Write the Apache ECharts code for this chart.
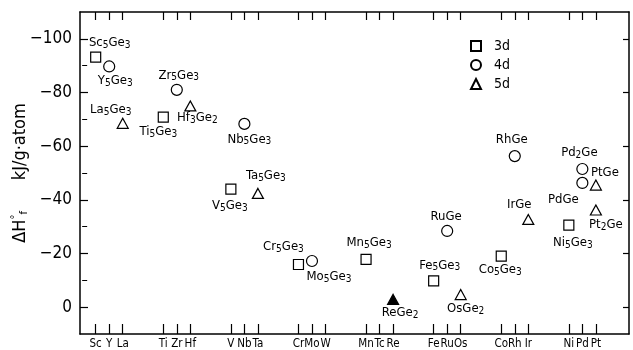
<!DOCTYPE html>
<html>
<head>
<meta charset="utf-8">
<script src="https://cdn.jsdelivr.net/npm/echarts@6/dist/echarts.min.js"></script>
<style>
html,body{margin:0;padding:0;background:#fff;}
#chart{width:633px;height:350px;}
</style>
</head>
<body>
<div id="chart"></div>
<script>
// ---- data ----
const elements = ['Sc','Y','La','Ti','Zr','Hf','V','Nb','Ta','Cr','Mo','W','Mn','Tc','Re','Fe','Ru','Os','Co','Rh','Ir','Ni','Pd','Pt'];
const elementSlots = [1,2,3,6,7,8,11,12,13,16,17,18,21,22,23,26,27,28,31,32,33,36,37,38];
const yTicks = [-100,-80,-60,-40,-20,0];
const yMinorTicks = [-90,-70,-50,-30,-10];

const compounds3d = ['Sc5Ge3','Ti5Ge3','V5Ge3','Cr5Ge3','Mn5Ge3','Fe5Ge3','Co5Ge3','Ni5Ge3'];
const metals3d    = ['Sc','Ti','V','Cr','Mn','Fe','Co','Ni'];
const dH3d        = [-93.2,-70.8,-44.0,-15.9,-17.8,-9.8,-19.0,-30.6];

const compounds4d = ['Y5Ge3','Zr5Ge3','Nb5Ge3','Mo5Ge3','RuGe','RhGe','Pd2Ge','PdGe'];
const metals4d    = ['Y','Zr','Nb','Mo','Ru','Rh','Pd','Pd'];
const dH4d        = [-89.7,-81.0,-68.3,-17.2,-28.4,-56.3,-51.5,-46.3];

const compounds5d = ['La5Ge3','Hf3Ge2','Ta5Ge3','ReGe2','OsGe2','IrGe','PtGe','Pt2Ge'];
const metals5d    = ['La','Hf','Ta','Re','Os','Ir','Pt','Pt'];
const dH5d        = [-68.5,-75.0,-42.4,-2.9,-4.7,-32.7,-45.5,-36.2];
const filled5d    = ['ReGe2'];

const seriesNames = ['3d','4d','5d'];

// ---- label placement (styling) ----
const labelOffsets = {
  'Sc5Ge3':[14,-14],'Y5Ge3':[6,15],'La5Ge3':[-12,-13],'Ti5Ge3':[-5,15],'Zr5Ge3':[2,-14],
  'Hf3Ge2':[7,12],'V5Ge3':[-1,17],'Nb5Ge3':[5,16],'Ta5Ge3':[8,-17],'Cr5Ge3':[-15,-17],
  'Mo5Ge3':[17,16],'Mn5Ge3':[3,-16],'ReGe2':[7,14],'Fe5Ge3':[6,-15],'OsGe2':[5,15],
  'RuGe':[-1,-14],'Co5Ge3':[-1,14],'IrGe':[-9,-14],'RhGe':[-3,-16],'Pd2Ge':[-3,-16],
  'PdGe':[-19,17],'PtGe':[9,-12],'Pt2Ge':[10,15],'Ni5Ge3':[4,18]
};

const FONT = "'Liberation Sans Narrow','DejaVu Sans Condensed','Liberation Sans',sans-serif";

function slotOf(m){ return elementSlots[elements.indexOf(m)]; }
function richFormula(f){
  return f.replace(/([A-Za-z]+)|(\d+)/g, (m,a,d) => a ? '{n|'+a+'}' : '{s|'+d+'}');
}
function buildData(compounds, metals, vals, filled){
  return compounds.map((c,i) => {
    const item = { name: c, value: [slotOf(metals[i]), vals[i]], label: { offset: labelOffsets[c] || [0,0] } };
    if (filled && filled.indexOf(c) >= 0) item.itemStyle = { color: '#000' };
    return item;
  });
}

const labelStyle = {
  show: true,
  position: 'inside',
  color: '#000',
  fontFamily: FONT,
  formatter: p => richFormula(p.name),
  rich: {
    n: { fontSize: 13, lineHeight: 14, verticalAlign: 'top', color: '#000', fontFamily: FONT },
    s: { fontSize: 10, lineHeight: 10, padding: [6,0,0,0], verticalAlign: 'bottom', color: '#000', fontFamily: FONT }
  }
};

const symbols = ['rect','circle','triangle'];
const symbolSizes = [10,11,[11,10]];
const datasets = [
  buildData(compounds3d, metals3d, dH3d),
  buildData(compounds4d, metals4d, dH4d),
  buildData(compounds5d, metals5d, dH5d, filled5d)
];

const chart = echarts.init(document.getElementById('chart'), null, {renderer:'canvas'});
const xRange = { min: -0.16, max: 40.45 };
const yRange = { min: -110, max: 10 };

const option = {
  animation: false,
  backgroundColor: '#fff',
  textStyle: { fontFamily: FONT, color: '#000' },
  grid: { left: 80, right: 4, top: 12, bottom: 16, containLabel: false, outerBoundsMode: 'none' },
  legend: {
    orient: 'vertical',
    left: 470, top: 39,
    itemWidth: 10, itemHeight: 10, itemGap: 5,
    padding: 0,
    selectedMode: false,
    data: seriesNames.map((n,i) => ({ name: n, icon: symbols[i] })),
    textStyle: { fontSize: 14, color: '#000', fontFamily: FONT, padding: [0,0,0,8] }
  },
  xAxis: [
    {
      type: 'value', position: 'bottom', min: xRange.min, max: xRange.max,
      splitLine: { show: false },
      axisLine: { show: true, onZero: false, lineStyle: { color: '#000', width: 1.5 } },
      axisTick: { show: true, inside: true, length: 10, customValues: elementSlots, lineStyle: { color: '#000', width: 1.2 } },
      axisLabel: { show: true, margin: 4, fontSize: 11.5, color: '#000', fontFamily: FONT,
        customValues: elementSlots,
        formatter: v => { const i = elementSlots.indexOf(Math.round(v)); return i >= 0 ? elements[i] : ''; } }
    },
    {
      type: 'value', position: 'top', min: xRange.min, max: xRange.max,
      splitLine: { show: false },
      axisLine: { show: true, onZero: false, lineStyle: { color: '#000', width: 1.5 } },
      axisTick: { show: true, inside: true, length: 8, customValues: elementSlots, lineStyle: { color: '#000', width: 1.2 } },
      axisLabel: { show: false }
    }
  ],
  yAxis: [
    {
      type: 'value', position: 'left', inverse: true, min: yRange.min, max: yRange.max,
      splitLine: { show: false },
      axisLine: { show: true, onZero: false, lineStyle: { color: '#000', width: 1.5 } },
      axisTick: { show: true, inside: true, length: 8, customValues: yTicks, lineStyle: { color: '#000', width: 1.2 } },
      axisLabel: { show: true, margin: 8, fontSize: 17, color: '#000', fontFamily: FONT,
        customValues: yTicks,
        formatter: v => v === 0 ? '0' : (v < 0 ? '\u2212' + Math.abs(v) : String(v)) },
      name: '{a|\u0394H}{sup|\u00b0}{sub|f}{a|      kJ/g\u00b7atom}',
      nameLocation: 'middle', nameGap: 50, nameRotate: 90, nameMoveOverlap: false,
      nameTextStyle: {
        color: '#000', fontFamily: FONT, fontSize: 18,
        rich: {
          a: { fontSize: 18, lineHeight: 20, verticalAlign: 'middle', color: '#000', fontFamily: FONT },
          sup: { fontSize: 11, lineHeight: 11, verticalAlign: 'top', color: '#000', fontFamily: FONT },
          sub: { fontSize: 11, lineHeight: 11, verticalAlign: 'bottom', color: '#000', fontFamily: FONT }
        }
      }
    },
    {
      type: 'value', position: 'left', inverse: true, min: yRange.min, max: yRange.max,
      splitLine: { show: false },
      axisLine: { show: false },
      axisTick: { show: true, inside: true, length: 5, customValues: yMinorTicks, lineStyle: { color: '#000', width: 1 } },
      axisLabel: { show: false }
    },
    {
      type: 'value', position: 'right', inverse: true, min: yRange.min, max: yRange.max,
      splitLine: { show: false },
      axisLine: { show: true, onZero: false, lineStyle: { color: '#000', width: 1.5 } },
      axisTick: { show: true, inside: true, length: 6, customValues: yTicks, lineStyle: { color: '#000', width: 1.2 } },
      axisLabel: { show: false }
    }
  ],
  series: seriesNames.map((n,i) => ({
    name: n,
    type: 'scatter',
    xAxisIndex: 0, yAxisIndex: 0,
    symbol: symbols[i],
    symbolSize: symbolSizes[i],
    itemStyle: { color: '#fff', borderColor: '#000', borderWidth: 1.2, opacity: 1 },
    label: labelStyle,
    emphasis: { disabled: true },
    data: datasets[i],
    z: 3
  }))
};
chart.setOption(option);
</script>
</body>
</html>
